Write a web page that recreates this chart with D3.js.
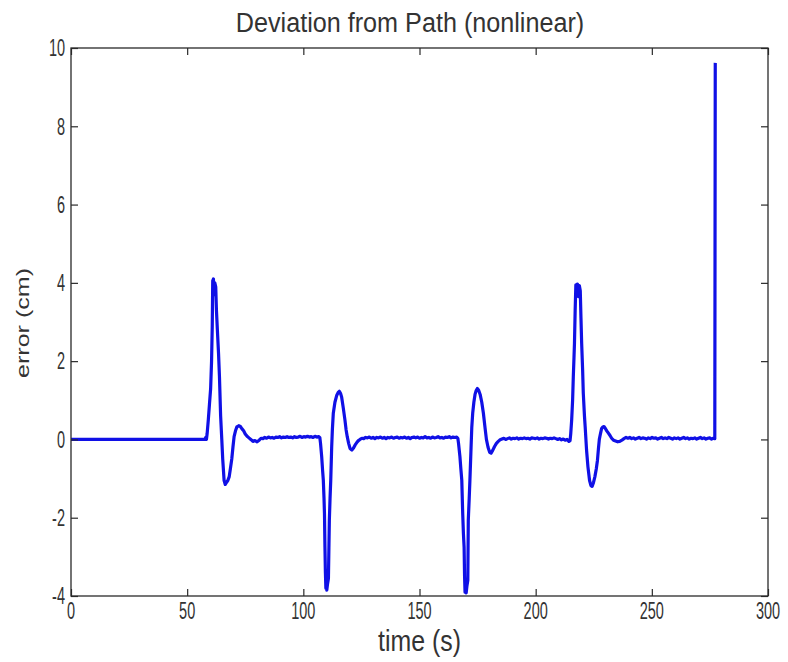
<!DOCTYPE html>
<html>
<head>
<meta charset="utf-8">
<script src="https://cdn.jsdelivr.net/npm/d3@7"></script>
<style>
  body { margin: 0; background: #fff; }
  text { font-family: "Liberation Sans", Arial, Helvetica, sans-serif; fill: #333; }
</style>
</head>
<body>
<svg id="chart" width="788" height="662"></svg>
<script>
// Axis ticks
const xTicks = [0, 50, 100, 150, 200, 250, 300];
const yTicks = [-4, -2, 0, 2, 4, 6, 8, 10];

// Path deviation samples: [time (s), error (cm)]
const quietStart = [[0, 0], [57.6, 0]];
const turn1 = [
  [58.0, 0.05], [58.3, 0.0], [58.6, 0.15], [59.1, 0.5], [59.6, 0.9], [60.1, 1.3], [60.5, 2.0],
  [60.8, 2.9], [61.0, 4.05], [61.3, 4.1], [61.6, 3.7], [61.9, 4.0], [62.3, 3.9], [62.6, 3.3],
  [63.0, 2.8], [63.5, 2.2], [63.9, 1.6], [64.4, 0.6], [64.9, 0.0], [65.3, -0.5], [65.9, -1.05],
  [66.4, -1.15], [66.9, -1.1], [67.5, -1.05], [68.1, -0.95], [68.6, -0.75], [69.2, -0.5],
  [69.7, -0.2], [70.2, 0.07], [70.8, 0.22], [71.4, 0.32], [72.2, 0.35], [72.9, 0.33], [73.6, 0.27],
  [74.3, 0.22], [75.0, 0.14], [75.8, 0.08], [76.6, 0.04], [77.4, 0.0], [78.3, -0.05], [79.2, -0.03],
  [80.1, -0.06]
];
const quiet1 = [
  [81.0, -0.02], [81.8, 0.03], [82.6, 0.02], [83.4, 0.05], [84.2, 0.03], [85.0, 0.06], [85.8, 0.04],
  [86.6, 0.05], [87.4, 0.03], [88.2, 0.06], [89.0, 0.05], [89.8, 0.07], [90.6, 0.04], [91.4, 0.06],
  [92.2, 0.05], [93.0, 0.07], [93.8, 0.05], [94.6, 0.06], [95.4, 0.04], [96.2, 0.07], [97.0, 0.05],
  [97.8, 0.06], [98.6, 0.08], [99.4, 0.05], [100.2, 0.07], [101.0, 0.06], [101.8, 0.08], [102.6, 0.06],
  [103.4, 0.07], [104.2, 0.05], [105.0, 0.08], [105.8, 0.06], [106.6, 0.07], [107.1, 0.05]
];
const turn2 = [
  [107.4, -0.1], [107.9, -0.44], [108.3, -0.8], [108.6, -1.04], [108.9, -1.5], [109.1, -1.9],
  [109.3, -2.75], [109.5, -3.4], [109.7, -3.8], [109.9, -3.5], [110.1, -3.85], [110.4, -3.7],
  [110.8, -3.55], [111.0, -2.8], [111.2, -2.06], [111.5, -1.5], [111.8, -1.04], [112.2, -0.2],
  [112.5, 0.25], [112.9, 0.67], [113.6, 0.95], [114.4, 1.13], [115.0, 1.2], [115.5, 1.23],
  [116.0, 1.18], [116.5, 1.08], [117.2, 0.8], [117.9, 0.5], [118.4, 0.25], [118.9, 0.07],
  [119.5, -0.1], [120.1, -0.23], [120.9, -0.27], [121.6, -0.22], [122.3, -0.14], [123.0, -0.08],
  [123.7, -0.03], [124.4, 0.0], [125.2, 0.03], [126.0, 0.02], [126.8, 0.05], [127.6, 0.04]
];
const quiet2 = [
  [128.4, 0.06], [129.2, 0.03], [130.0, 0.05], [130.8, 0.02], [131.6, 0.05], [132.4, 0.04],
  [133.2, 0.06], [134.0, 0.03], [134.8, 0.05], [135.6, 0.02], [136.4, 0.05], [137.2, 0.04],
  [138.0, 0.06], [138.8, 0.03], [139.6, 0.05], [140.4, 0.06], [141.2, 0.03], [142.0, 0.05],
  [142.8, 0.04], [143.6, 0.06], [144.4, 0.03], [145.2, 0.05], [146.0, 0.02], [146.8, 0.05],
  [147.6, 0.06], [148.4, 0.04], [149.2, 0.06], [150.0, 0.03], [150.8, 0.05], [151.6, 0.04],
  [152.4, 0.07], [153.2, 0.04], [154.0, 0.05], [154.8, 0.03], [155.6, 0.06], [156.4, 0.04],
  [157.2, 0.05], [158.0, 0.07], [158.8, 0.04], [159.6, 0.05], [160.4, 0.03], [161.2, 0.06],
  [162.0, 0.05], [162.8, 0.07], [163.6, 0.04], [164.4, 0.06], [165.2, 0.05], [166.0, 0.06],
  [166.5, 0.03]
];
const turn3 = [
  [166.8, -0.1], [167.4, -0.44], [167.8, -0.75], [168.2, -1.04], [168.6, -1.9], [168.9, -2.4],
  [169.2, -2.75], [169.4, -3.5], [169.6, -3.9], [169.8, -3.6], [170.1, -3.92], [170.4, -3.75],
  [170.8, -3.6], [171.0, -2.06], [171.4, -1.5], [171.7, -1.04], [172.2, -0.19], [172.5, 0.3],
  [172.9, 0.67], [173.4, 0.95], [173.9, 1.15], [174.4, 1.25], [174.9, 1.3], [175.5, 1.25],
  [176.1, 1.15], [176.8, 0.95], [177.5, 0.67], [178.2, 0.3], [178.8, 0.0], [179.5, -0.2],
  [180.2, -0.33], [180.8, -0.35], [181.5, -0.28], [182.3, -0.18], [183.1, -0.1], [183.9, -0.05],
  [184.7, -0.01], [185.5, 0.01]
];
const quiet3 = [
  [186.3, 0.03], [187.1, 0.0], [187.9, 0.02], [188.7, 0.04], [189.5, 0.01], [190.3, 0.03],
  [191.1, 0.02], [191.9, 0.04], [192.7, 0.01], [193.5, 0.03], [194.3, 0.02], [195.1, 0.04],
  [195.9, 0.02], [196.7, 0.03], [197.5, 0.01], [198.3, 0.04], [199.1, 0.03], [199.9, 0.02],
  [200.7, 0.04], [201.5, 0.01], [202.3, 0.03], [203.1, 0.02], [203.9, 0.04], [204.7, 0.03],
  [205.5, 0.01], [206.3, 0.03], [207.1, 0.02], [207.9, 0.04], [208.7, 0.02], [209.5, 0.0],
  [210.3, 0.02], [211.1, -0.01], [211.9, 0.01], [212.7, -0.02], [213.5, 0.0], [214.3, -0.05],
  [214.8, -0.03]
];
const turn4 = [
  [215.1, 0.15], [215.5, 0.5], [215.9, 1.0], [216.2, 1.6], [216.5, 2.1], [216.7, 2.45], [217.0, 3.3],
  [217.3, 3.95], [217.7, 3.75], [218.0, 3.97], [218.4, 3.65], [218.8, 3.93], [219.2, 3.8],
  [219.5, 3.1], [219.8, 2.45], [220.2, 1.8], [220.5, 1.18], [221.0, 0.6], [221.3, 0.33],
  [221.9, -0.27], [222.5, -0.7], [223.2, -1.05], [223.8, -1.18], [224.3, -1.2], [224.9, -1.1],
  [225.5, -0.95], [226.1, -0.75], [226.6, -0.53], [227.0, -0.25], [227.4, 0.0], [227.9, 0.15],
  [228.4, 0.28], [228.9, 0.32], [229.4, 0.33], [230.0, 0.28], [230.6, 0.22], [231.3, 0.16],
  [232.0, 0.1], [232.7, 0.03], [233.5, -0.02], [234.4, -0.04], [235.3, -0.06], [236.2, -0.05],
  [237.1, -0.02], [238.0, 0.02], [238.9, 0.05]
];
const quiet4 = [
  [239.7, 0.03], [240.5, 0.05], [241.3, 0.02], [242.1, 0.04], [242.9, 0.01], [243.7, 0.03],
  [244.5, 0.05], [245.3, 0.02], [246.1, 0.04], [246.9, 0.03], [247.7, 0.01], [248.5, 0.04],
  [249.3, 0.02], [250.1, 0.05], [250.9, 0.03], [251.7, 0.04], [252.5, 0.01], [253.3, 0.03],
  [254.1, 0.05], [254.9, 0.02], [255.7, 0.04], [256.5, 0.02], [257.3, 0.05], [258.1, 0.03],
  [258.9, 0.01], [259.7, 0.04], [260.5, 0.02], [261.3, 0.04], [262.1, 0.01], [262.9, 0.03],
  [263.7, 0.05], [264.5, 0.02], [265.3, 0.04], [266.1, 0.01], [266.9, 0.03], [267.7, 0.02],
  [268.5, 0.04], [269.3, 0.01], [270.1, 0.03], [270.9, 0.05], [271.7, 0.02], [272.5, 0.04],
  [273.3, 0.01], [274.1, 0.03], [274.9, 0.04], [275.7, 0.01], [276.5, 0.03], [277.1, 0.02]
];
const finalSpike = [[277.3, 9.62]];

const series = [].concat(quietStart, turn1, quiet1, turn2, quiet2, turn3, quiet3, turn4, quiet4, finalSpike);

// Layout
const plot = { left: 71, right: 768, top: 48, bottom: 596 };

const svg = d3.select("#chart");

const x = d3.scaleLinear().domain([0, 300]).range([plot.left, plot.right]);
const y = d3.scaleLinear().domain([-4, 10]).range([plot.bottom, plot.top]);

// Data line
svg.append("defs").append("clipPath").attr("id", "plotClip")
  .append("rect")
  .attr("x", plot.left).attr("y", plot.top)
  .attr("width", plot.right - plot.left).attr("height", plot.bottom - plot.top);

const line = d3.line().x(d => x(d[0])).y(d => y(d[1]));

svg.append("path")
  .datum(series)
  .attr("clip-path", "url(#plotClip)")
  .attr("fill", "none")
  .attr("stroke", "#1010e6")
  .attr("stroke-width", 3.2)
  .attr("stroke-linejoin", "round")
  .attr("d", line);

// Inward ticks on all four sides
const tickLen = 7;
const axisColor = "#2a2a2a";
function styleAxis(g) {
  g.select(".domain").remove();
  g.selectAll(".tick line").attr("stroke", axisColor).attr("stroke-width", 1.2);
}
svg.append("g").attr("transform", `translate(0,${plot.bottom})`)
  .call(d3.axisBottom(x).tickValues(xTicks).tickSize(-tickLen).tickFormat(""))
  .call(styleAxis);
svg.append("g").attr("transform", `translate(0,${plot.top})`)
  .call(d3.axisTop(x).tickValues(xTicks).tickSize(-tickLen).tickFormat(""))
  .call(styleAxis);
svg.append("g").attr("transform", `translate(${plot.left},0)`)
  .call(d3.axisLeft(y).tickValues(yTicks).tickSize(-tickLen).tickFormat(""))
  .call(styleAxis);
svg.append("g").attr("transform", `translate(${plot.right},0)`)
  .call(d3.axisRight(y).tickValues(yTicks).tickSize(-tickLen).tickFormat(""))
  .call(styleAxis);

// Box
svg.append("rect")
  .attr("x", plot.left).attr("y", plot.top)
  .attr("width", plot.right - plot.left).attr("height", plot.bottom - plot.top)
  .attr("fill", "none")
  .attr("stroke", axisColor)
  .attr("stroke-width", 1.3);

// Tall, narrow lettering
function label(str, px, py, size, sy, anchor, rotate) {
  const r = rotate ? ` rotate(${rotate})` : "";
  svg.append("text")
    .attr("transform", `translate(${px},${py}) scale(1,${sy})${r}`)
    .attr("text-anchor", anchor)
    .style("font-size", size + "px")
    .text(str);
}

xTicks.forEach(t => label(String(t), x(t), 619, 14.5, 1.6, "middle"));
yTicks.forEach(t => label(String(t), plot.left - 6, y(t) + 8.3, 14.5, 1.6, "end"));

label("Deviation from Path (nonlinear)", 410, 32, 25.2, 1.1, "middle");
label("time (s)", (plot.left + plot.right) / 2, 651, 24.9, 1.15, "middle");
label("error (cm)", 29, 323, 19, 1.32, "middle", -90);
</script>
</body>
</html>
